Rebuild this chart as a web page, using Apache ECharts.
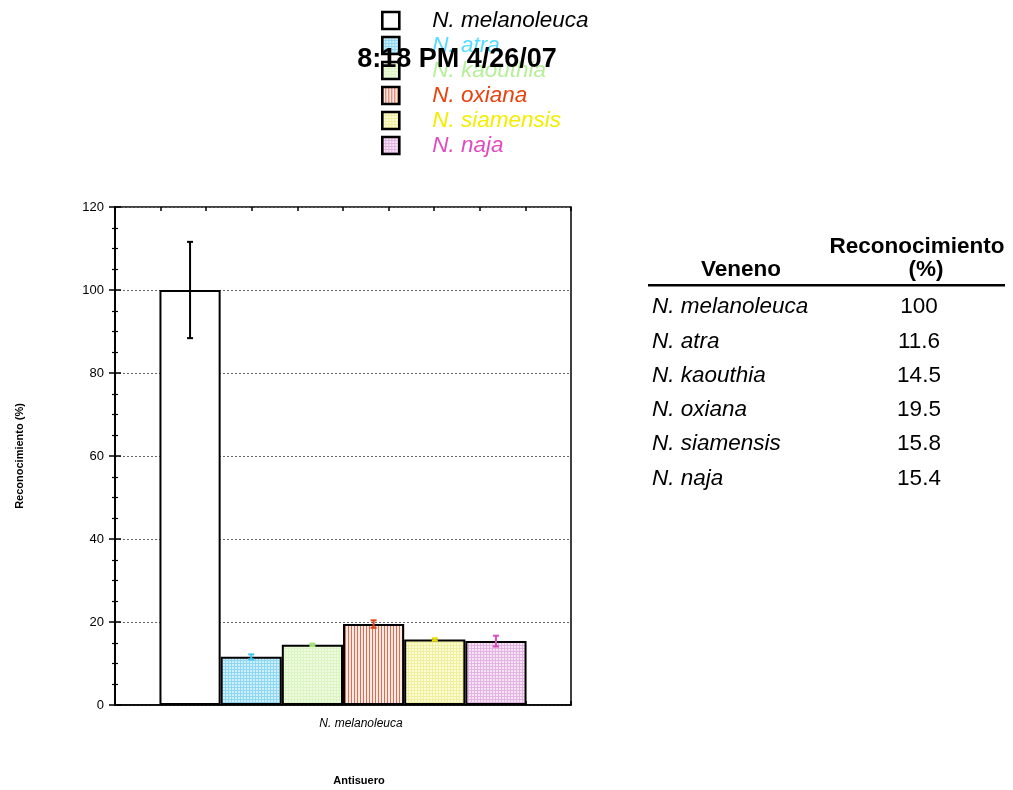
<!DOCTYPE html>
<html>
<head>
<meta charset="utf-8">
<script src="https://cdn.jsdelivr.net/npm/echarts@6/dist/echarts.min.js"></script>
<style>
  html, body { margin: 0; padding: 0; background: #fff; }
  #chart { width: 1013px; height: 790px; }
</style>
</head>
<body>
<div id="chart"></div>
<script>
// Antiserum raised against N. melanoleuca, tested on six venoms
const antiserum = ['N. melanoleuca'];
const venoms = ['N. melanoleuca', 'N. atra', 'N. kaouthia', 'N. oxiana', 'N. siamensis', 'N. naja'];
const recognition = [100, 11.6, 14.5, 19.5, 15.8, 15.4];
const errors = [11.6, 0.6, 0.3, 0.9, 0.3, 1.3];
const yTicks = [0, 20, 40, 60, 80, 100, 120];
const stamp = '8:18 PM 4/26/07';

const FONT = '"Liberation Sans", Arial, sans-serif';
const textColors = ['#000000', '#55dcff', '#b6f09a', '#e8420f', '#f2ee00', '#e04cc0'];
const errColors = ['#000000', '#3cc6f0', '#a4e274', '#e0441e', '#eede00', '#dc4cbc'];

// small repeating fills for the bars
function pattern(bg, line, kind, step) {
  const c = document.createElement('canvas');
  c.width = step; c.height = step;
  const g = c.getContext('2d');
  g.fillStyle = bg; g.fillRect(0, 0, step, step);
  if (line) {
    g.fillStyle = line;
    g.fillRect(0, 0, 1, step);
    if (kind === 'grid') g.fillRect(0, 0, step, 1);
  }
  return { image: c, repeat: 'repeat' };
}
const fills = [
  '#ffffff',
  pattern('#cdf0fb', '#8fd6f0', 'grid', 3),
  pattern('#effbdf', '#dcf4c4', 'grid', 3),
  pattern('#faeae3', '#de6c50', 'stripe', 3),
  pattern('#fcfcd6', '#f0ef9e', 'grid', 3),
  pattern('#f6e4f4', '#e2b4e2', 'grid', 3)
];

const GAP = 0.195;
const barSeries = venoms.map((name, i) => ({
  name: name,
  type: 'bar',
  barGap: '0%',
  barCategoryGap: (GAP * 100) + '%',
  data: [recognition[i]],
  itemStyle: { color: fills[i], borderColor: '#000', borderWidth: 2 },
  z: 2
}));

const errData = venoms.map((n, i) => [0, recognition[i], errors[i], i]);
const errSeries = {
  type: 'custom',
  z: 5,
  data: errData,
  renderItem: function (params, api) {
    const v = api.value(1), e = api.value(2), i = api.value(3);
    const top = api.coord([api.value(0), v + e]);
    const bot = api.coord([api.value(0), v - e]);
    const band = api.size([1, 0])[0];
    const bw = band * (1 - GAP) / venoms.length;
    const x = top[0] + (i - (venoms.length - 1) / 2) * bw;
    const cap = 3;
    const st = { stroke: errColors[i], lineWidth: 2 };
    return {
      type: 'group',
      children: [
        { type: 'line', shape: { x1: x, y1: top[1], x2: x, y2: bot[1] }, style: st },
        { type: 'line', shape: { x1: x - cap, y1: top[1], x2: x + cap, y2: top[1] }, style: st },
        { type: 'line', shape: { x1: x - cap, y1: bot[1], x2: x + cap, y2: bot[1] }, style: st }
      ]
    };
  }
};

// table beside the plot
const tableRows0 = 307, tableStep = 34.3;
const tableGraphics = [
  { type: 'text', x: 741, y: 270, style: { text: 'Veneno', font: 'bold 22.5px ' + FONT, fill: '#000', align: 'center', verticalAlign: 'middle' } },
  { type: 'text', x: 917, y: 247, style: { text: 'Reconocimiento', font: 'bold 22.5px ' + FONT, fill: '#000', align: 'center', verticalAlign: 'middle' } },
  { type: 'text', x: 926, y: 270, style: { text: '(%)', font: 'bold 22.5px ' + FONT, fill: '#000', align: 'center', verticalAlign: 'middle' } },
  { type: 'rect', shape: { x: 648, y: 284, width: 357, height: 2.5 }, style: { fill: '#000' } }
];
venoms.forEach((n, i) => {
  const y = tableRows0 + i * tableStep;
  tableGraphics.push({ type: 'text', x: 652, y: y, style: { text: n, font: 'italic 22.5px ' + FONT, fill: '#000', verticalAlign: 'middle', align: 'left' } });
  tableGraphics.push({ type: 'text', x: 919, y: y, style: { text: String(recognition[i]), font: '22.5px ' + FONT, fill: '#000', verticalAlign: 'middle', align: 'center' } });
});

const chart = echarts.init(document.getElementById('chart'), null, { renderer: 'canvas' });
chart.setOption({
  backgroundColor: '#fff',
  animation: false,
  textStyle: { fontFamily: FONT },
  legend: {
    orient: 'vertical',
    left: 376,
    top: 4,
    itemWidth: 17,
    itemHeight: 17,
    itemGap: 2,
    icon: 'rect',
    itemStyle: { borderColor: '#000', borderWidth: 2.6 },
    data: venoms.map((n, i) => ({
      name: n,
      textStyle: { color: textColors[i], fontSize: 22.5, fontStyle: 'italic', fontFamily: FONT, padding: [0, 0, 0, 28], lineHeight: 23 }
    })),
    selectedMode: false
  },
  grid: { left: 115, right: 442, top: 207, bottom: 85, show: true, borderColor: '#000', borderWidth: 1.5, backgroundColor: 'transparent', outerBoundsMode: 'none', containLabel: false },
  xAxis: [
    {
      type: 'category',
      data: antiserum,
      axisLine: { lineStyle: { color: '#000', width: 1.5 } },
      axisTick: { show: false },
      axisLabel: { color: '#000', fontSize: 12, fontStyle: 'italic', margin: 13, padding: [0, 0, 0, 36] },
      name: 'Antisuero',
      nameLocation: 'middle',
      nameGap: 70,
      nameTextStyle: { color: '#000', fontSize: 11, fontWeight: 'bold', padding: [0, 0, 0, 32] }
    },
    {
      type: 'value', position: 'bottom', min: 0, max: 10, interval: 1,
      axisLine: { show: false }, axisLabel: { show: false }, splitLine: { show: false },
      axisTick: { inside: true, length: 4, lineStyle: { color: '#000', width: 1.5 } }
    },
    {
      type: 'value', position: 'top', min: 0, max: 10, interval: 1,
      axisLine: { show: false }, axisLabel: { show: false }, splitLine: { show: false },
      axisTick: { inside: true, length: 4, lineStyle: { color: '#000', width: 1.5 } }
    }
  ],
  yAxis: [
    {
      type: 'value',
      min: yTicks[0],
      max: yTicks[yTicks.length - 1],
      interval: 20,
      axisLine: { show: true, lineStyle: { color: '#000', width: 1.5 } },
      axisTick: { inside: true, length: 6, lineStyle: { color: '#000', width: 1.5 } },
      minorTick: { show: true, splitNumber: 4, length: 3, lineStyle: { color: '#000', width: 1.2 } },
      axisLabel: { color: '#000', fontSize: 13, margin: 11 },
      splitLine: { show: true, lineStyle: { color: '#666', type: [2, 2], width: 1 } },
      name: 'Reconocimiento (%)',
      nameLocation: 'middle',
      nameGap: 90,
      nameTextStyle: { color: '#000', fontSize: 11, fontWeight: 'bold' }
    },
    {
      type: 'value',
      position: 'right',
      min: 0, max: 120, interval: 20,
      axisLine: { show: true, lineStyle: { color: '#000', width: 1.5 } },
      axisTick: { inside: true, length: 6, lineStyle: { color: '#000', width: 1.5 } },
      minorTick: { show: true, splitNumber: 4, length: 3, lineStyle: { color: '#000', width: 1.2 } },
      axisLabel: { show: false },
      splitLine: { show: false }
    }
  ],
  series: barSeries.concat([errSeries]),
  graphic: tableGraphics.concat([
    { type: 'text', x: 457, y: 60, z: 100, style: { text: stamp, font: 'bold 27px ' + FONT, fill: '#000', align: 'center', verticalAlign: 'middle' } }
  ])
});
</script>
</body>
</html>
